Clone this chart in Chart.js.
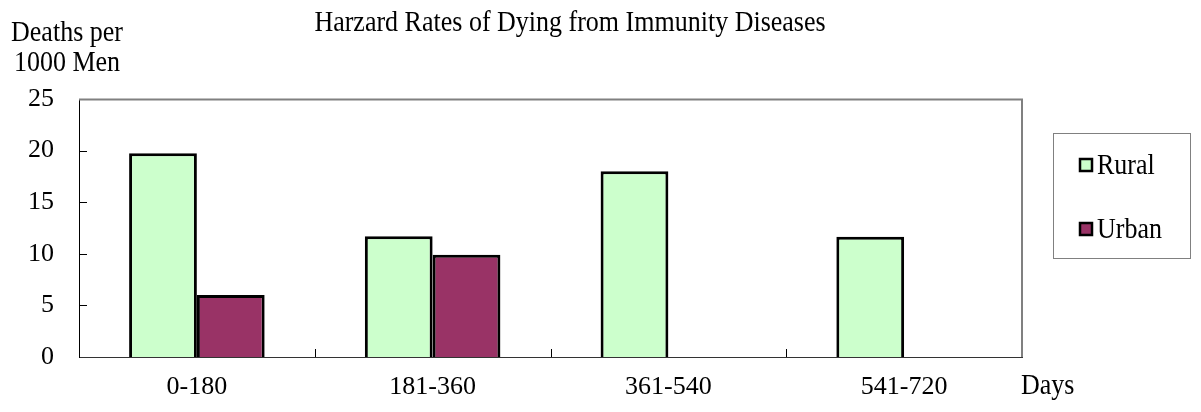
<!DOCTYPE html>
<html>
<head>
<meta charset="utf-8">
<script src="https://cdn.jsdelivr.net/npm/chart.js@4"></script>
<style>
  body { margin: 0; background: #fff; }
  canvas { display: block; }
</style>
</head>
<body>
<canvas id="myChart" width="1201" height="412"></canvas>
<script>
// data
const categories = ['0-180', '181-360', '361-540', '541-720']
const rural = [19.75, 11.7, 18.0, 11.65]
const urban = [6.0, 9.9, null, null]
const yTicks = [0, 5, 10, 15, 20, 25]

const FONT = "'Liberation Serif', 'Times New Roman', serif"

// text drawn a bit taller, the reference font looks stretched
const tallText = (ctx, txt, x, y) => {
    ctx.save()
    ctx.translate(x, y)
    ctx.scale(1, 1.12)
    ctx.fillText(txt, 0, 0)
    ctx.restore()
}

// titles, legend box and the small inward ticks excel draws
const extras = {
    id: 'extras',
    afterDraw(chart) {
        const ctx = chart.ctx
        const a = chart.chartArea
        const x = chart.scales.x
        const y = chart.scales.y
        ctx.save()

        // top + right frame (gray)
        ctx.strokeStyle = '#808080'
        ctx.lineWidth = 2
        ctx.beginPath()
        ctx.moveTo(a.left, a.top + 0.5)
        ctx.lineTo(a.right, a.top + 0.5)
        ctx.lineTo(a.right, a.bottom)
        ctx.stroke()

        // inward ticks
        ctx.strokeStyle = '#000'
        ctx.lineWidth = 1
        ctx.beginPath()
        yTicks.slice(1, -1).forEach(v => {
            const py = Math.round(y.getPixelForValue(v)) + 0.5
            ctx.moveTo(a.left, py)
            ctx.lineTo(a.left + 8, py)
        })
        for (let i = 1; i < categories.length; i++) {
            const px = Math.round((x.getPixelForValue(i - 1) + x.getPixelForValue(i)) / 2) + 0.5
            ctx.moveTo(px, a.bottom)
            ctx.lineTo(px, a.bottom - 8)
        }
        ctx.stroke()

        ctx.fillStyle = '#000'
        ctx.font = '26px ' + FONT
        ctx.textBaseline = 'middle'
        ctx.textAlign = 'center'
        tallText(ctx, 'Harzard Rates of Dying from Immunity Diseases', 570, 23)
        tallText(ctx, 'Deaths per', 67, 33)
        tallText(ctx, '1000 Men', 67, 63)
        ctx.textAlign = 'left'
        tallText(ctx, 'Days', 1021, 386)

        // legend
        ctx.strokeStyle = '#808080'
        ctx.lineWidth = 1
        ctx.strokeRect(1053.5, 133.5, 137, 125)
        const rows = [165, 229]
        chart.data.datasets.forEach((ds, i) => {
            ctx.fillStyle = ds.backgroundColor
            ctx.fillRect(1080, rows[i] - 6, 12, 12)
            ctx.strokeStyle = '#000'
            ctx.lineWidth = 2.5
            ctx.strokeRect(1080, rows[i] - 6, 12, 12)
            ctx.fillStyle = '#000'
            tallText(ctx, ds.label, 1097, rows[i] + 1)
        })
        ctx.restore()
    }
}

new Chart(document.getElementById('myChart').getContext('2d'), {
    type: 'bar',
    data: {
        labels: categories,
        datasets: [
            {
                label: 'Rural',
                data: rural,
                backgroundColor: '#CCFFCC',
                borderColor: '#000',
                borderWidth: 3
            },
            {
                label: 'Urban',
                data: urban,
                backgroundColor: '#993366',
                borderColor: '#000',
                borderWidth: 3
            }
        ]
    },
    options: {
        responsive: false,
        animation: false,
        events: [],
        categoryPercentage: 0.575,
        barPercentage: 1,
        layout: { padding: { left: 0, top: 99, right: 179, bottom: 0 } },
        plugins: {
            legend: { display: false },
            title: { display: false },
            tooltip: { enabled: false }
        },
        scales: {
            x: {
                afterFit: s => { s.height = 412 - 357 },
                grid: { display: false, drawTicks: false },
                border: { color: '#333', width: 1 },
                ticks: { color: '#000', font: { family: FONT, size: 26 }, padding: 15 }
            },
            y: {
                min: yTicks[0],
                max: yTicks[yTicks.length - 1],
                afterFit: s => { s.width = 79 },
                grid: { display: false, drawTicks: false },
                border: { color: '#000', width: 1 },
                ticks: { stepSize: 5, color: '#000', font: { family: FONT, size: 26 }, padding: 25 }
            }
        }
    },
    plugins: [extras]
})
</script>
</body>
</html>
